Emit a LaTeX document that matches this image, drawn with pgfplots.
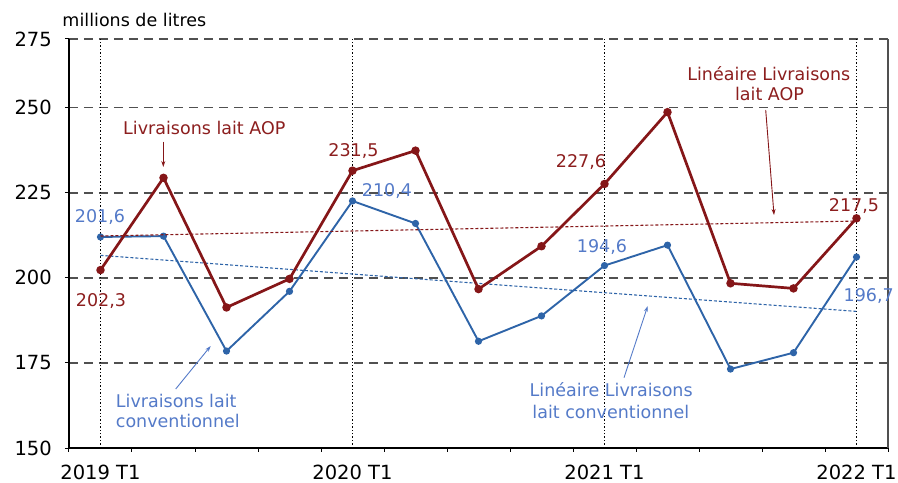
\documentclass[border=0pt]{standalone}
\usepackage{pgfplots}
\pgfplotsset{compat=1.18}
\usepackage{fontspec}
\setmainfont{DejaVu Sans}
\usetikzlibrary{arrows.meta}
\definecolor{aop}{RGB}{133,22,24}
\definecolor{aoptxt}{RGB}{140,30,30}
\definecolor{conv}{RGB}{46,100,168}
\definecolor{convtxt}{RGB}{84,122,200}
\definecolor{gridgray}{RGB}{80,80,80}
\newcommand{\tickfont}{\fontsize{19.5bp}{22bp}\selectfont}
\newcommand{\annfont}{\fontsize{17.5bp}{20bp}\selectfont}
\begin{document}
\begin{tikzpicture}
\pgfplotsset{every axis/.append style={at={(0,0)}, anchor=south west, scale only axis, width=819bp, height=409bp, xmin=-0.5, xmax=12.5, clip=false}}
% main axis: grids, ticks
\begin{axis}[
  ymin=150, ymax=270.2,
  axis line style={draw=none},
  xtick pos=left, ytick pos=left,
  tick align=outside,
  major tick length=4bp,
  tick style={black, line width=1bp},
  xtick={-0.5,0.5,...,12.5},
  xticklabels={},
  extra x ticks={0,4,8,12},
  extra x tick labels={2019 T1,2020 T1,2021 T1,2022 T1},
  extra x tick style={major tick length=0pt, xmajorgrids=true, ymajorgrids=false,
     major grid style={black, line width=1.4bp, dash pattern=on 1.4bp off 2bp},
     xticklabel style={anchor=base, inner sep=0pt, yshift=-31.5bp}},
  ytick={150,175,200,225,250,270.2},
  yticklabels={150,175,200,225,250,275},
  ymajorgrids=true,
  major grid style={gridgray, line width=1.5bp, dash pattern=on 9bp off 6bp},
  tick label style={font=\tickfont, text=black},
  yticklabel style={anchor=east, inner sep=0pt, xshift=-13bp},
]
\addplot[draw=none] coordinates {(0,200)};
\end{axis}
% conventional milk (secondary scale)
\begin{axis}[ymin=150, ymax=250, hide axis]
\addplot[conv, line width=1.9bp, mark=*, mark size=2.6bp, mark options={solid}] coordinates {
(0,201.6) (1,201.8) (2,173.7) (3,188.3) (4,210.4) (5,204.9) (6,176.1)
(7,182.3) (8,194.6) (9,199.6) (10,169.3) (11,173.3) (12,196.7)};
\addplot[conv, line width=1.1bp, dash pattern=on 3bp off 2bp] coordinates {(0,197.1) (12,183.4)};
\end{axis}
% AOP milk (primary scale)
\begin{axis}[ymin=150, ymax=270.2, hide axis]
\addplot[aop, line width=2.7bp, mark=*, mark size=2.8bp, mark options={solid}] coordinates {
(0,202.3) (1,229.4) (2,191.3) (3,199.7) (4,231.5) (5,237.4) (6,196.7)
(7,209.3) (8,227.6) (9,248.7) (10,198.4) (11,196.9) (12,217.5)};
\addplot[aop, line width=1.1bp, dash pattern=on 3bp off 2bp] coordinates {(0,212.3) (12,216.7)};
\end{axis}
% axis lines
\draw[black, line width=1.4bp] (0,409bp) -- (0,0) -- (819bp,0);
\draw[gridgray, line width=2bp] (819bp,0) -- (819bp,409bp);
% unit label
\node[anchor=base west, inner sep=0pt, font=\annfont] at (-6.7bp,421.3bp) {millions de litres};
% data labels
\begin{scope}[every node/.style={anchor=base, inner sep=0pt, font=\annfont}]
\node[text=aoptxt] at (32bp,141.3bp) {202,3};
\node[text=aoptxt] at (284.5bp,291.3bp) {231,5};
\node[text=aoptxt] at (512bp,280bp) {227,6};
\node[text=aoptxt] at (785bp,236.3bp) {217,5};
\node[text=convtxt] at (31bp,225bp) {201,6};
\node[text=convtxt] at (318bp,251bp) {210,4};
\node[text=convtxt] at (533bp,195.3bp) {194,6};
\node[text=convtxt] at (799.7bp,146.3bp) {196,7};
% annotations
\node[text=aoptxt] at (135.3bp,313bp) {Livraisons lait AOP};
\node[text=aoptxt] at (699.8bp,367bp) {Linéaire Livraisons};
\node[text=aoptxt] at (700.5bp,347bp) {lait AOP};
\node[text=convtxt, anchor=base west] at (46.7bp,40.7bp) {Livraisons lait};
\node[text=convtxt, anchor=base west] at (46.7bp,20.3bp) {conventionnel};
\node[text=convtxt] at (542.2bp,51.3bp) {Linéaire Livraisons};
\node[text=convtxt] at (541.8bp,29.7bp) {lait conventionnel};
\end{scope}
% arrows
\draw[aop, line width=0.9bp, -{Stealth[length=6bp,width=4bp]}] (94.3bp,306.3bp) -- (94.3bp,281bp);
\draw[aop, line width=0.9bp, -{Stealth[length=6bp,width=4bp]}] (696.7bp,338bp) -- (705bp,233bp);
\draw[convtxt, line width=0.9bp, -{Stealth[length=6bp,width=4bp]}] (106.7bp,59bp) -- (141.7bp,102bp);
\draw[convtxt, line width=0.9bp, -{Stealth[length=6bp,width=4bp]}] (555bp,70.3bp) -- (578.7bp,142bp);
\path[use as bounding box] (-69bp,-35bp) rectangle (829bp,448bp);
\end{tikzpicture}
\end{document}
